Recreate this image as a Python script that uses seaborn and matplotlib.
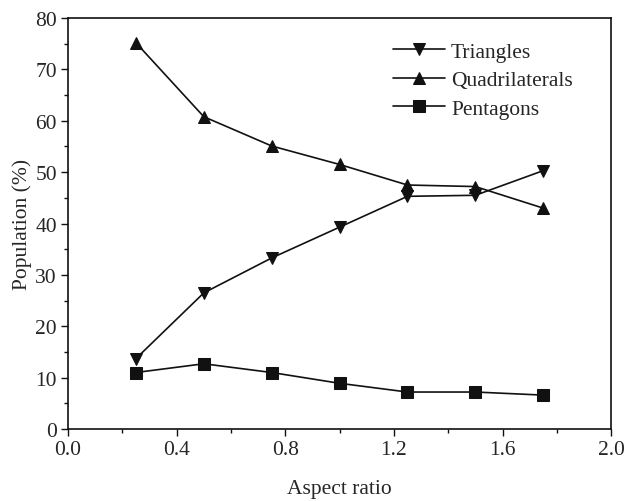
import seaborn as sns
import matplotlib.pyplot as plt
import pandas as pd
from matplotlib.ticker import MultipleLocator

# values
aspect_ratio = [0.25, 0.5, 0.75, 1.0, 1.25, 1.5, 1.75]
triangles = [13.7, 26.5, 33.3, 39.3, 45.3, 45.5, 50.3]
quadrilaterals = [75.2, 60.8, 55.1, 51.5, 47.5, 47.2, 43.0]
pentagons = [11.0, 12.7, 11.0, 8.9, 7.2, 7.2, 6.6]
series_names = ["Triangles", "Quadrilaterals", "Pentagons"]

sns.set_style("ticks")
plt.rcParams['font.family'] = ['Liberation Serif', 'DejaVu Serif']
plt.rcParams['xtick.direction'] = 'out'
plt.rcParams['ytick.direction'] = 'out'

df = pd.DataFrame({
    "ratio": aspect_ratio * 3,
    "pop": triangles + quadrilaterals + pentagons,
    "shape": [n for n in series_names for _ in aspect_ratio],
})

fig = plt.figure(figsize=(6.32, 5.02), dpi=100)
ax = fig.add_axes([0.1076, 0.1434, 0.8594, 0.8186])

sns.lineplot(data=df, x="ratio", y="pop", hue="shape", style="shape",
             palette=["#111111"] * 3, dashes=False,
             markers={"Triangles": "v", "Quadrilaterals": "^", "Pentagons": "s"},
             markersize=8.5, linewidth=1.2, markeredgecolor="#111111", ax=ax)

ax.set_xlim(0, 2.0)
ax.set_ylim(0, 80)
ax.xaxis.set_major_locator(MultipleLocator(0.4))
ax.xaxis.set_minor_locator(MultipleLocator(0.2))
ax.yaxis.set_major_locator(MultipleLocator(10))
ax.yaxis.set_minor_locator(MultipleLocator(5))
ax.set_xticklabels([f"{v:.1f}" for v in ax.get_xticks()])
ax.tick_params(which="major", length=5, width=1, labelsize=15.5, color="#111111", pad=3)
ax.tick_params(which="minor", length=3, width=1, color="#111111")
for s in ax.spines.values():
    s.set_color("#111111")
    s.set_linewidth(1.2)

ax.set_xlabel("Aspect ratio", fontsize=15.5, labelpad=14)
ax.set_ylabel("Population (%)", fontsize=15.5, labelpad=2)

leg = ax.legend(loc="upper right", bbox_to_anchor=(0.965, 0.99), frameon=False,
                fontsize=15.5, handlelength=2.4, handletextpad=0.3, labelspacing=0.4)

fig.savefig("out.png", dpi=100)
